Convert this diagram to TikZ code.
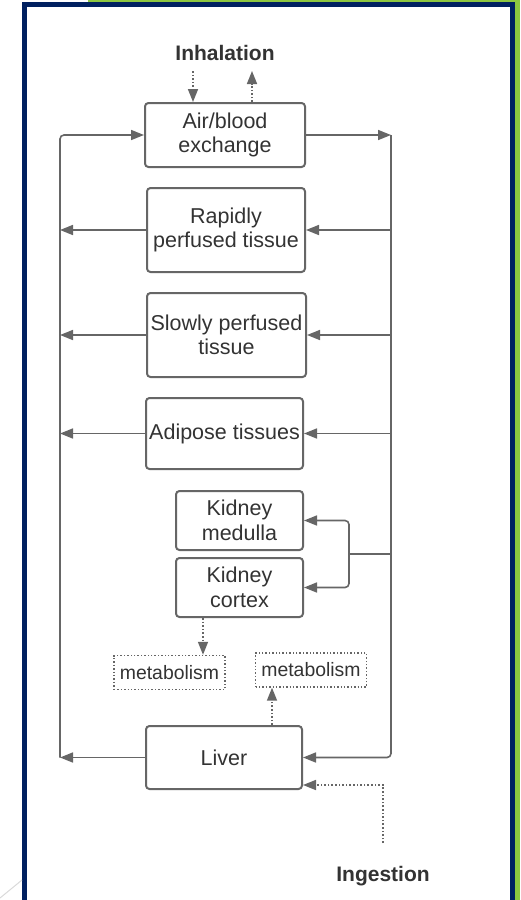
\documentclass[tikz,border=0pt]{standalone}
\usepackage{fontspec}
\setmainfont{Liberation Sans}
\usepackage{xcolor}
\usetikzlibrary{arrows.meta}
\definecolor{linegray}{HTML}{666666}
\definecolor{textgray}{HTML}{333333}
\definecolor{framegreen}{HTML}{8DC63F}
\definecolor{frameblue}{HTML}{002060}

\begin{document}
\begin{tikzpicture}[x=1pt, y=-1pt]
% Define styles
\tikzset{
  organ/.style = {draw=linegray, line width=2pt, rounded corners=3.5pt, fill=white, text=textgray,
    align=center, inner sep=0pt, font=\fontsize{21.5}{24.5}\selectfont},
  metab/.style = {draw=linegray, line width=1.4pt, dotted, inner sep=0pt, text=textgray,
    minimum width=111pt, minimum height=34pt, font=\fontsize{19.4}{22}\selectfont},
  label/.style = {text=textgray, font=\fontsize{21}{24}\selectfont\bfseries},
  flow/.style = {draw=linegray, line width=1.6pt, -{Triangle[length=13pt,width=10pt]}},
  flowdot/.style = {flow, dotted}
}
\useasboundingbox (0,0) rectangle (520,900);
% Frame
\fill[framegreen] (88,0) rectangle (520,3);
\fill[framegreen] (515,0) rectangle (520,900);
\fill[frameblue] (22,2) rectangle (515,900);
\fill[white] (27,7) rectangle (510,900);
\draw[black!15, line width=1pt] (0,898) -- (22,880);
% Define nodes
\node[label] (inhal) at (225,53) {Inhalation};
\node[organ, minimum width=160pt, minimum height=64pt] (air) at (225,135) {Air/blood\\exchange};
\node[organ, minimum width=158pt, minimum height=84pt] (rapid) at (226,230) {Rapidly\\perfused tissue};
\node[organ, minimum width=159pt, minimum height=84pt] (slow) at (226.5,335) {Slowly perfused\\tissue};
\node[organ, minimum width=157pt, minimum height=71pt] (adipose) at (224.5,433.5) {Adipose tissues};
\node[organ, minimum width=127pt, minimum height=59pt] (medulla) at (239.5,520.5) {Kidney\\medulla};
\node[organ, minimum width=127pt, minimum height=59pt] (cortex) at (239.5,587.5) {Kidney\\cortex};
\node[metab] (metab_k) at (169.5,672.5) {metabolism};
\node[metab] (metab_l) at (311,670) {metabolism};
\node[organ, minimum width=156pt, minimum height=63pt] (liver) at (224,757.5) {Liver};
\node[label] (ingest) at (383,876) {Ingestion};
% Corner points
\coordinate (lefttop) at (60,135);
\coordinate (leftbot) at (60,757.5);
\coordinate (righttop) at (391,135);
\coordinate (rightbot) at (391,757.5);
\coordinate (kidj) at (391,554);
\coordinate (kidm) at (349,554);
\coordinate (inh_in) at (193,71);
\coordinate (inh_out) at (252,71);
\coordinate (ing_start) at (383,843);
\coordinate (ing_turn) at (383,785);
% Connect the nodes
\draw[flowdot] (inh_in) -- (inh_in |- air.north);
\draw[flowdot] (inh_out |- air.north) -- (inh_out);
\draw[flow, rounded corners=4pt] (leftbot) -- (lefttop) -- (air.west);
\draw[flow] (air.east) -- (righttop);
\draw[flow, rounded corners=4pt] (righttop) -- (rightbot) -- (liver.east);
\draw[flow] (rapid.west) -- (rapid.west -| lefttop);
\draw[flow] (slow.west) -- (slow.west -| lefttop);
\draw[flow] (adipose.west) -- (adipose.west -| lefttop);
\draw[flow] (liver.west) -- (leftbot);
\draw[flow] (rapid.east -| righttop) -- (rapid.east);
\draw[flow] (slow.east -| righttop) -- (slow.east);
\draw[flow] (adipose.east -| righttop) -- (adipose.east);
\draw[draw=linegray, line width=1.6pt] (kidj) -- (kidm);
\draw[flow, rounded corners=4pt] (kidm) |- (medulla.east);
\draw[flow, rounded corners=4pt] (kidm) |- (cortex.east);
\draw[flowdot] (cortex.south -| 203,0) -- (metab_k.north -| 203,0);
\draw[flowdot] (liver.north -| 272,0) -- (metab_l.south -| 272,0);
\draw[flowdot] (ing_start) -- (ing_turn) -- (ing_turn -| liver.east);
\end{tikzpicture}
\end{document}
